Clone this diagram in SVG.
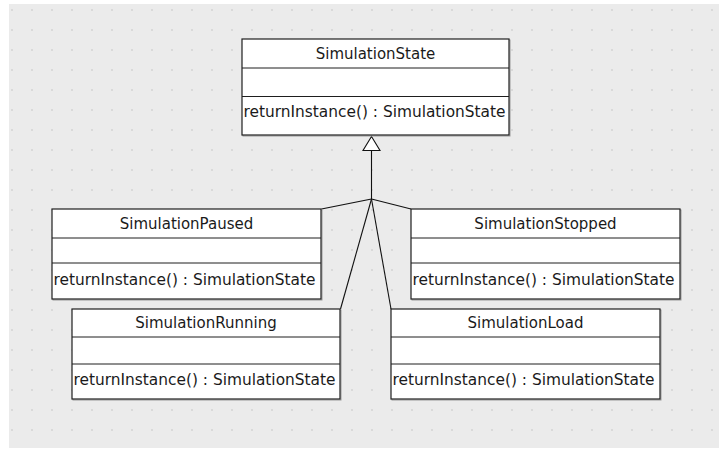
<svg xmlns="http://www.w3.org/2000/svg" width="719" height="450" viewBox="0 0 719 450">
  <style>
    .box { fill: #ffffff; stroke: #1e1e1e; stroke-width: 1.2; }
    .shadow { fill: none; stroke: #9a9a9a; stroke-width: 1; }
    .div { stroke: #1e1e1e; stroke-width: 1; }
    .title { font-family: "DejaVu Sans", "Liberation Sans", sans-serif; font-size: 15px; fill: #1a1a1a; text-anchor: middle; }
    .op { font-family: "DejaVu Sans", "Liberation Sans", sans-serif; font-size: 15px; fill: #1a1a1a; }
    .conn { stroke: #111111; stroke-width: 1.1; fill: none; }
  </style>
  <defs>
    <pattern id="dots" x="0" y="0" width="20" height="20" patternUnits="userSpaceOnUse">
      <rect x="11" y="9" width="2" height="2" fill="#d9d9d9"/>
    </pattern>
  </defs>
  <rect x="0" y="0" width="719" height="450" fill="#ffffff"/>
  <rect x="9" y="4" width="710" height="444" fill="#ebebeb"/>
  <rect x="9" y="4" width="710" height="444" fill="url(#dots)"/>

  <g id="connectors">
    <line class="conn" x1="371.5" y1="150.5" x2="371.5" y2="199"/>
    <line class="conn" x1="371.5" y1="199" x2="321.5" y2="209"/>
    <line class="conn" x1="371.5" y1="199" x2="411" y2="209"/>
    <line class="conn" x1="371.5" y1="199" x2="340.5" y2="309"/>
    <line class="conn" x1="371.5" y1="199" x2="391" y2="309"/>
    <polygon points="371.5,136.5 363,150.5 380,150.5" fill="#ffffff" stroke="#111111" stroke-width="1.1"/>
  </g>

  <g id="SimulationState">
    <rect class="shadow" x="243" y="40" width="267" height="96"/>
    <rect class="box" x="242" y="39" width="267" height="96"/>
    <line class="div" x1="242" y1="68" x2="509" y2="68"/>
    <line class="div" x1="242" y1="96.5" x2="509" y2="96.5"/>
    <text class="title" x="375.5" y="59">SimulationState</text>
    <text class="op" x="243.5" y="117" textLength="262" lengthAdjust="spacingAndGlyphs">returnInstance() : SimulationState</text>
  </g>

  <g id="SimulationPaused">
    <rect class="shadow" x="53" y="210" width="269" height="90"/>
    <rect class="box" x="52" y="209" width="269" height="90"/>
    <line class="div" x1="52" y1="238" x2="321" y2="238"/>
    <line class="div" x1="52" y1="263" x2="321" y2="263"/>
    <text class="title" x="186.5" y="228.5">SimulationPaused</text>
    <text class="op" x="53.5" y="285" textLength="262" lengthAdjust="spacingAndGlyphs">returnInstance() : SimulationState</text>
  </g>

  <g id="SimulationStopped">
    <rect class="shadow" x="412" y="210" width="269" height="90"/>
    <rect class="box" x="411" y="209" width="269" height="90"/>
    <line class="div" x1="411" y1="238" x2="680" y2="238"/>
    <line class="div" x1="411" y1="263" x2="680" y2="263"/>
    <text class="title" x="545.5" y="228.5">SimulationStopped</text>
    <text class="op" x="412.5" y="285" textLength="262" lengthAdjust="spacingAndGlyphs">returnInstance() : SimulationState</text>
  </g>

  <g id="SimulationRunning">
    <rect class="shadow" x="73" y="310" width="268" height="90"/>
    <rect class="box" x="72" y="309" width="268" height="90"/>
    <line class="div" x1="72" y1="337" x2="340" y2="337"/>
    <line class="div" x1="72" y1="364" x2="340" y2="364"/>
    <text class="title" x="206" y="328">SimulationRunning</text>
    <text class="op" x="73.5" y="385" textLength="262" lengthAdjust="spacingAndGlyphs">returnInstance() : SimulationState</text>
  </g>

  <g id="SimulationLoad">
    <rect class="shadow" x="392" y="310" width="269" height="90"/>
    <rect class="box" x="391" y="309" width="269" height="90"/>
    <line class="div" x1="391" y1="337" x2="660" y2="337"/>
    <line class="div" x1="391" y1="364" x2="660" y2="364"/>
    <text class="title" x="525.5" y="328">SimulationLoad</text>
    <text class="op" x="392.5" y="385" textLength="262" lengthAdjust="spacingAndGlyphs">returnInstance() : SimulationState</text>
  </g>
</svg>
